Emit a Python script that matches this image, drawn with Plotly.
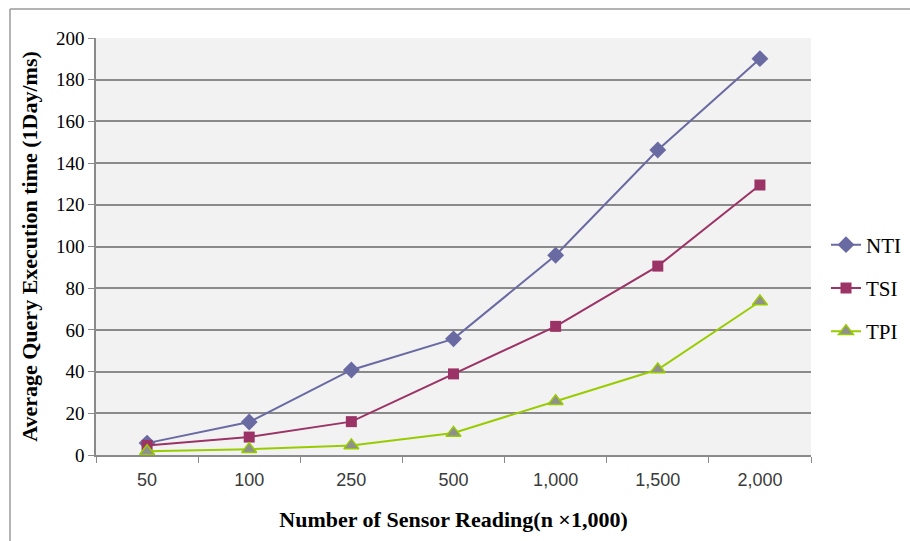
import plotly.graph_objects as go

# Data
categories = ["50", "100", "250", "500", "1,000", "1,500", "2,000"]
nti = [5.7, 15.8, 40.8, 55.7, 95.8, 146.3, 190.1]
tsi = [4.6, 8.6, 16.0, 38.9, 61.7, 90.6, 129.5]
tpi = [1.8, 2.8, 4.6, 10.6, 25.8, 41.0, 73.6]

y_ticks = [0, 20, 40, 60, 80, 100, 120, 140, 160, 180, 200]

serif = "Liberation Serif, Times New Roman, serif"
sans = "Liberation Sans, Arial, sans-serif"
grid = "#8a8a8a"

fig = go.Figure()
fig.add_trace(go.Scatter(
    x=categories, y=nti, name="NTI", mode="lines+markers", legendgroup="a",
    line=dict(color="#6a6aa3", width=2),
    marker=dict(symbol="diamond", size=13, color="#6a6aa3"),
))
fig.add_trace(go.Scatter(
    x=categories, y=tsi, name="TSI", mode="lines+markers", legendgroup="b",
    line=dict(color="#9b3366", width=2),
    marker=dict(symbol="square", size=11, color="#9b3366"),
))
fig.add_trace(go.Scatter(
    x=categories, y=tpi, name="TPI", mode="lines+markers", legendgroup="c",
    line=dict(color="#99cc00", width=2),
    marker=dict(symbol="triangle-up", size=13, color="#8f8f8f",
                line=dict(color="#99cc00", width=1.5)),
))

fig.update_layout(
    width=910, height=541,
    margin=dict(l=96, r=99, t=38, b=86),
    paper_bgcolor="white",
    plot_bgcolor="#f2f2f2",
    showlegend=True,
    legend=dict(
        xref="container", yref="container",
        x=826 / 910, y=1 - 288 / 541, xanchor="left", yanchor="middle",
        font=dict(family=serif, size=21, color="black"),
        bgcolor="rgba(0,0,0,0)", tracegroupgap=13, itemwidth=30,
    ),
    xaxis=dict(
        type="category",
        showgrid=False,
        showline=True, linecolor=grid, linewidth=1.5,
        ticks="outside", tickson="boundaries", ticklen=6, tickcolor=grid,
        tickfont=dict(family=sans, size=18, color="#3a3a3a"),
        ticklabelstandoff=8,
        title=dict(text="<b>Number of Sensor Reading(n \u00d71,000)</b>",
                   font=dict(family=serif, size=22, color="black"),
                   standoff=22),
        range=[-0.5, 6.5],
        fixedrange=True,
    ),
    yaxis=dict(
        range=[0, 200],
        tickvals=y_ticks,
        showgrid=True, gridcolor=grid, gridwidth=1.5,
        zeroline=False,
        showline=True, linecolor=grid, linewidth=1.5,
        ticks="outside", ticklen=6, tickcolor=grid,
        tickfont=dict(family=serif, size=19, color="black"),
        title=dict(text="<b>Average Query Execution time (1Day/ms)</b>",
                   font=dict(family=serif, size=22, color="black"),
                   standoff=12),
        fixedrange=True,
    ),
)

# Outer chart frame (top and left edges)
fig.add_shape(type="line", xref="paper", yref="paper",
              x0=(10 - 96) / 715, x1=1.2, y0=1 + (38 - 9) / 417, y1=1 + (38 - 9) / 417,
              line=dict(color="#9a9a9a", width=1.5))
fig.add_shape(type="line", xref="paper", yref="paper",
              x0=(10 - 96) / 715, x1=(10 - 96) / 715, y0=1 + (38 - 9) / 417, y1=-0.3,
              line=dict(color="#9a9a9a", width=1.5))

fig.write_html("out.html")
